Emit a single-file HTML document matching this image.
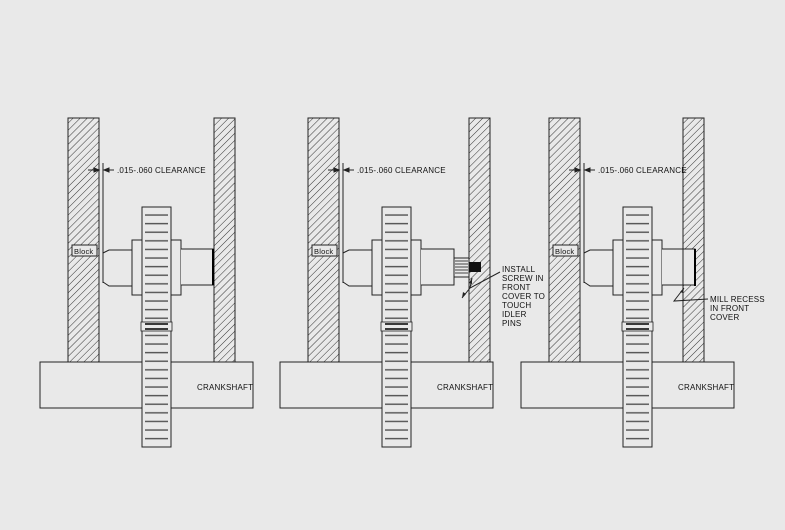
<!DOCTYPE html>
<html><head><meta charset="utf-8"><style>
html,body{margin:0;padding:0;background:#e9e9e9;}
svg{display:block;}
text{font-family:"Liberation Sans",sans-serif;font-size:8px;fill:#111;letter-spacing:0.2px;}
</style></head><body>
<svg width="785" height="530" viewBox="0 0 785 530" xmlns="http://www.w3.org/2000/svg">
<defs>
<pattern id="h" width="5" height="5" patternUnits="userSpaceOnUse" patternTransform="rotate(45)">
<rect width="5" height="5" fill="#e9e9e9"/><line x1="0" y1="0" x2="0" y2="5" stroke="#333" stroke-width="1"/>
</pattern>
<pattern id="t" x="0" y="213" width="40" height="8.6" patternUnits="userSpaceOnUse">
<line x1="0" y1="2" x2="40" y2="2" stroke="#555" stroke-width="1.4"/>
</pattern>
<g id="gear">
<rect x="142" y="207" width="29" height="240" fill="#e9e9e9" stroke="#222" stroke-width="1"/>
<rect x="145" y="210" width="23" height="235" fill="url(#t)"/>
<rect x="141" y="322" width="31" height="9" fill="#e9e9e9" stroke="#222" stroke-width="0.8"/>
<line x1="145" y1="324" x2="168" y2="324" stroke="#000" stroke-width="1.6"/>
<line x1="145" y1="329" x2="168" y2="329" stroke="#000" stroke-width="1.6"/>
</g>
<g id="common" stroke="#222" stroke-width="1" fill="none">
<rect x="68" y="118" width="31" height="244" fill="url(#h)"/>
<rect x="40" y="362" width="213" height="46" fill="#e9e9e9"/>
<line x1="103" y1="163" x2="103" y2="283"/>
<line x1="88" y1="170" x2="98" y2="170"/>
<path d="M99,170 l-5,-2 v4z" fill="#222"/>
<line x1="104" y1="170" x2="114" y2="170"/>
<path d="M104,170 l5,-2 v4z" fill="#222"/>
<rect x="72" y="245" width="25" height="11" fill="#e9e9e9"/>
<rect x="132" y="240" width="49" height="55" fill="#e9e9e9"/>
</g>
</defs>

<use href="#common"/>
<rect x="214" y="118" width="21" height="244" fill="url(#h)" stroke="#222"/>
<path d="M103,253 L109,250 H132 M103,282 L109,286 H132" stroke="#222" fill="none"/>
<path d="M181,249 H214 V285 H181" stroke="#222" fill="#e9e9e9"/>
<line x1="213" y1="249" x2="213" y2="285" stroke="#000" stroke-width="2"/>
<use href="#gear"/>

<g transform="translate(240,0)">
<use href="#common"/>
<rect x="229" y="118" width="21" height="244" fill="url(#h)" stroke="#222"/>
<path d="M103,253 L109,250 H132 M103,282 L109,286 H132" stroke="#222" fill="none"/>
<path d="M181,249 H214 V285 H181" stroke="#222" fill="#e9e9e9"/>
<rect x="214" y="258" width="15" height="19" fill="#e9e9e9" stroke="#222"/>
<g stroke="#444" stroke-width="1"><line x1="215" y1="261" x2="228" y2="261"/><line x1="215" y1="264" x2="228" y2="264"/><line x1="215" y1="267" x2="228" y2="267"/><line x1="215" y1="270" x2="228" y2="270"/><line x1="215" y1="273" x2="228" y2="273"/></g>
<rect x="229" y="262" width="12" height="10" fill="#111"/>
<path d="M260,272 L230,288 L222,298 M230,288 L232,278" stroke="#222" fill="none"/>
<path d="M222,298 l1,-6 l3,2z M232,278 l-3,5 l3,1z" fill="#222"/>
<use href="#gear"/>
</g>

<g transform="translate(481,0)">
<use href="#common"/>
<rect x="202" y="118" width="21" height="244" fill="url(#h)" stroke="#222"/>
<path d="M103,253 L109,250 H132 M103,282 L109,286 H132" stroke="#222" fill="none"/>
<path d="M181,249 H214 V285 H181" stroke="#222" fill="#e9e9e9"/>
<rect x="202" y="249" width="12" height="36" fill="#e9e9e9" stroke="#222"/>
<line x1="214" y1="249" x2="214" y2="286" stroke="#000" stroke-width="2"/>
<path d="M227,299 L193,301 L203,288" stroke="#222" fill="none"/>
<path d="M203,288 l-4,4 l3,1z" fill="#222"/>
<use href="#gear"/>
</g>

<text x="117" y="173">.015-.060 CLEARANCE</text>
<text x="357" y="173">.015-.060 CLEARANCE</text>
<text x="598" y="173">.015-.060 CLEARANCE</text>
<text x="74" y="254" style="font-size:7.5px">Block</text>
<text x="314" y="254" style="font-size:7.5px">Block</text>
<text x="555" y="254" style="font-size:7.5px">Block</text>
<text x="197" y="390">CRANKSHAFT</text>
<text x="437" y="390">CRANKSHAFT</text>
<text x="678" y="390">CRANKSHAFT</text>
<text x="502" y="272">INSTALL</text>
<text x="502" y="281">SCREW IN</text>
<text x="502" y="290">FRONT</text>
<text x="502" y="299">COVER TO</text>
<text x="502" y="308">TOUCH</text>
<text x="502" y="317">IDLER</text>
<text x="502" y="326">PINS</text>
<text x="710" y="302">MILL RECESS</text>
<text x="710" y="311">IN FRONT</text>
<text x="710" y="320">COVER</text>
</svg>
</body></html>
